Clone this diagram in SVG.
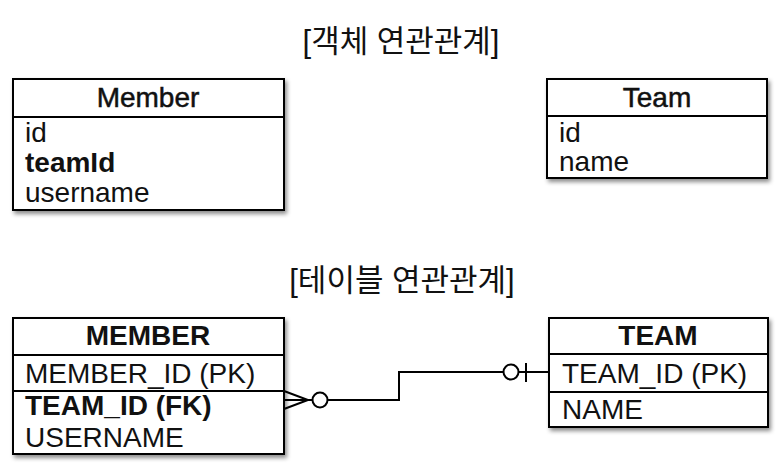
<svg xmlns="http://www.w3.org/2000/svg" width="778" height="466" viewBox="0 0 778 466">
<defs>
<filter id="sh" x="-10%" y="-10%" width="130%" height="140%">
<feDropShadow dx="2" dy="3" stdDeviation="2" flood-color="#000" flood-opacity="0.45"/>
</filter>
</defs>
<style>
.box{fill:#fff;stroke:#000;stroke-width:2;filter:url(#sh)}
.sep{stroke:#000;stroke-width:2}
.t{font-family:"Liberation Sans","Noto Sans CJK KR",sans-serif;font-size:28px;fill:#111}
.h{text-anchor:middle}
.hm{stroke:#111;stroke-width:0.5}
.b{font-weight:bold}
.title{font-family:"Liberation Sans","Noto Sans CJK KR",sans-serif;font-size:31px;fill:#111;text-anchor:middle}
.c{fill:none;stroke:#000;stroke-width:2}
</style>
<rect width="778" height="466" fill="#fff"/>
<text class="title" x="401" y="52">[객체 연관관계]</text>
<text class="title" x="402" y="291">[테이블 연관관계]</text>

<g id="Member">
<rect class="box" x="13" y="79" width="271" height="131"/>
<line class="sep" x1="13" y1="117" x2="284" y2="117"/>
<text class="t h hm" x="148" y="107">Member</text>
<text class="t" x="25" y="142">id</text>
<text class="t b" x="25" y="172">teamId</text>
<text class="t" x="25" y="202">username</text>
</g>

<g id="Team">
<rect class="box" x="547" y="79" width="220" height="99"/>
<line class="sep" x1="547" y1="116" x2="767" y2="116"/>
<text class="t h hm" x="657" y="107">Team</text>
<text class="t" x="559" y="142">id</text>
<text class="t" x="559" y="171">name</text>
</g>

<g id="MEMBER">
<rect class="box" x="13" y="318" width="271" height="136"/>
<line class="sep" x1="13" y1="355" x2="284" y2="355"/>
<line class="sep" x1="13" y1="391" x2="284" y2="391"/>
<text class="t h b" x="148" y="345">MEMBER</text>
<text class="t" x="25" y="383">MEMBER_ID (PK)</text>
<text class="t b" x="25" y="415">TEAM_ID (FK)</text>
<text class="t" x="25" y="447">USERNAME</text>
</g>

<g id="TEAM">
<rect class="box" x="549" y="318" width="219" height="109"/>
<line class="sep" x1="549" y1="354" x2="768" y2="354"/>
<line class="sep" x1="549" y1="392" x2="768" y2="392"/>
<text class="t h b" x="658" y="345">TEAM</text>
<text class="t" x="562" y="383">TEAM_ID (PK)</text>
<text class="t" x="562" y="419">NAME</text>
</g>

<g id="connectors">
<path class="c" d="M284 391 L308 400 L284 409 M284 400 L312 400"/>
<circle class="c" cx="320" cy="400" r="7.5"/>
<path class="c" d="M327.5 400 H399 V372 H503"/>
<circle class="c" cx="511" cy="372" r="7.5"/>
<path class="c" d="M518.5 372 H549 M526 363 V382"/>
</g>
</svg>
